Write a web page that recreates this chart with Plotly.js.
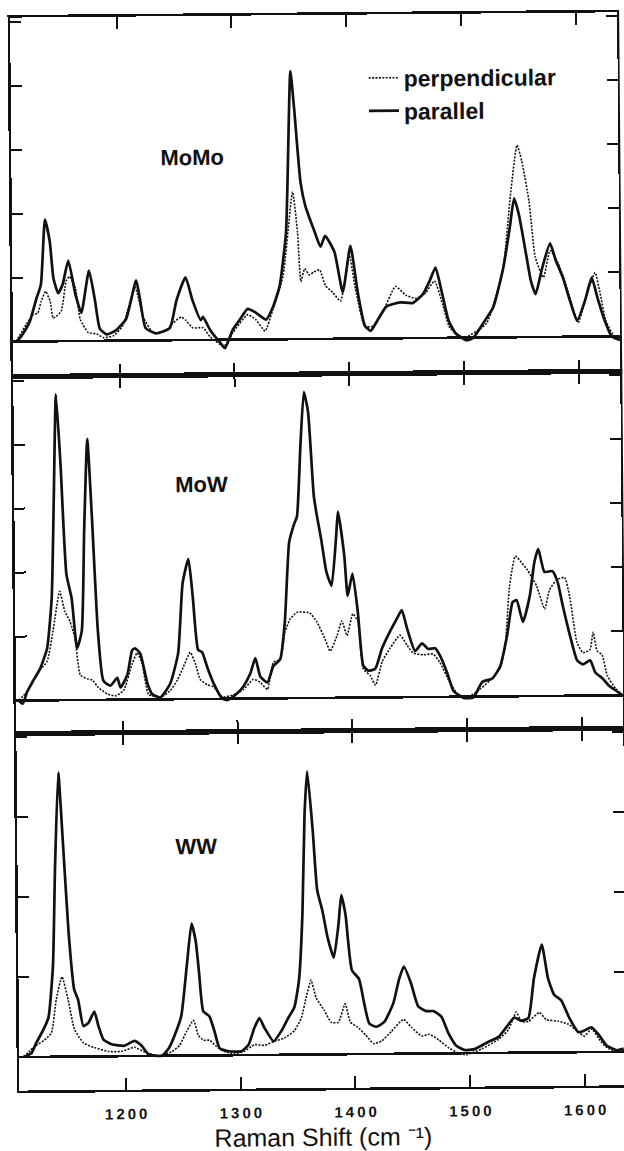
<!DOCTYPE html>
<html>
<head>
<meta charset="utf-8">
<script src="https://cdn.plot.ly/plotly-3.0.1.min.js"></script>
<style>
html,body{margin:0;padding:0;background:#fff;overflow:hidden;}
#plot{width:624px;height:1151px;transform:rotate(-0.5deg);transform-origin:312px 575.5px;}
</style>
</head>
<body>
<div id="plot"></div>
<script>
// ---------- data (Raman shift in cm^-1, relative intensity) ----------
const panelNames = ["MoMo", "MoW", "WW"];
const seriesNames = ["perpendicular", "parallel"];
const tickValues = [1200, 1300, 1400, 1500, 1600];
const tickLabels = ["1\u20092\u20090\u20090", "1\u20093\u20090\u20090", "1\u20094\u20090\u20090", "1\u20095\u20090\u20090", "1\u20096\u20090\u20090"];
const xTitle = "Raman Shift (cm \u207B\u00B9)";

// MoMo
const momoParX = [1110,1112,1117,1122,1128,1132,1136,1140,1143,1147,1151,1156,1162,1167,1174,1179,1183,1189,1197,1206,1215,1218,1223,1232,1244,1250,1258,1264,1271,1273,1279,1288,1292,1299,1305,1312,1319,1328,1334,1340,1346,1351,1354,1359,1363,1371,1376,1380,1388,1395,1402,1408,1414,1419,1426,1433,1445,1456,1465,1471,1476,1481,1487,1493,1502,1508,1517,1526,1535,1541,1545,1549,1555,1559,1563,1569,1576,1581,1587,1593,1599,1606,1612,1617,1623,1629,1637,1641];
const momoParY = [0.0,0.03,0.15,0.31,0.67,0.89,1.9,1.56,0.98,0.75,0.89,1.26,0.73,0.44,1.1,0.63,0.19,0.1,0.16,0.34,0.94,0.67,0.19,0.11,0.19,0.62,0.98,0.62,0.31,0.36,0.16,-0.05,-0.13,0.16,0.31,0.48,0.42,0.31,0.5,0.83,1.67,4.19,3.6,2.45,2.08,1.67,1.44,1.61,1.36,0.73,1.45,0.73,0.2,0.12,0.31,0.5,0.56,0.55,0.69,0.9,1.1,0.74,0.27,0.07,-0.04,-0.01,0.22,0.47,1.08,1.71,2.17,1.92,1.3,0.88,0.67,1.08,1.46,1.19,0.92,0.56,0.25,0.56,0.92,0.6,0.25,0.0,-0.06,-0.04];
const momoPerpX = [1110,1119,1125,1129,1132,1136,1140,1142.5,1149.5,1154,1157,1162,1166,1173,1180,1186,1195,1203,1214,1221,1230,1241,1247,1254,1258,1264,1273,1279,1291,1299,1312,1319,1327,1334,1343,1352,1356,1358.6,1362,1366,1370,1375,1380,1386,1393,1401,1406,1414,1421,1430,1441,1450,1459,1467,1475,1482,1488,1500,1520,1535,1542,1548,1552,1558,1563,1570,1576,1583,1589,1594,1600,1607,1615,1619,1624,1632,1641];
const momoPerpY = [0.0,0.27,0.42,0.44,0.62,0.78,0.62,0.36,0.47,0.94,1.01,0.83,0.34,0.13,0.11,0.05,0.08,0.23,0.83,0.36,0.11,0.16,0.27,0.36,0.31,0.19,0.19,0.05,-0.1,0.11,0.39,0.31,0.13,0.47,0.98,2.3,1.67,0.9,1.1,1.0,1.05,1.08,0.83,0.73,0.59,1.3,0.78,0.19,0.19,0.42,0.81,0.67,0.62,0.7,0.89,0.52,0.16,0.0,0.22,1.1,2.25,3.0,2.75,2.12,1.25,0.93,1.35,1.15,0.84,0.53,0.22,0.62,1.0,0.7,0.25,-0.02,-0.06];

// MoW
const mowParX = [1109.4,1113,1117,1122,1128.5,1134.6,1139,1141.6,1144.2,1147.7,1152,1156.4,1160.8,1165,1167.8,1171.2,1174.7,1179,1183.4,1189.5,1195.6,1198.3,1204.4,1208.7,1211.3,1215.7,1221.8,1226,1233,1241.8,1248.8,1253.2,1258.4,1262,1266.2,1269.7,1274,1279.3,1287,1291.5,1298.5,1305.4,1311.5,1316,1320.3,1326.4,1331.6,1337.7,1342,1346.4,1350.8,1353.4,1356.9,1360.3,1363.8,1368.2,1370.8,1374.3,1378.6,1383,1387.4,1389.1,1394.3,1397,1401.3,1405.7,1410,1414.4,1420.5,1426.6,1433.6,1439.7,1444,1448.4,1455.3,1461.4,1466.7,1472.8,1477.1,1483.2,1488.5,1497.2,1505.9,1513.7,1522.4,1529.4,1535.5,1540.7,1544.2,1549.5,1555.6,1559.9,1563.4,1568.6,1575.6,1580,1584.3,1590.4,1596.5,1601.7,1607.8,1612.2,1618.3,1623.5,1629.6,1635.7];
const mowParY = [0,-0.05,0.14,0.3,0.5,0.81,1.59,3.16,4.78,3.69,1.97,1.59,0.81,1.08,2.64,4.08,2.84,1.08,0.3,0.22,0.34,0.19,0.39,0.77,0.8,0.72,0.25,0.08,0.03,0.25,0.72,1.81,2.19,1.59,0.77,0.73,0.5,0.25,0,-0.02,0.06,0.19,0.39,0.63,0.34,0.25,0.5,0.61,1.19,2.44,2.72,2.84,3.94,4.78,4.47,3.16,2.84,2.48,1.97,1.75,2.53,2.91,2.22,1.59,1.94,1.34,0.5,0.42,0.45,0.77,1.03,1.23,1.36,1.08,0.72,0.84,0.75,0.76,0.64,0.37,0.09,-0.02,-0.01,0.23,0.28,0.47,0.94,1.47,1.5,1.16,1.56,2.09,2.3,1.94,1.95,1.78,1.41,0.94,0.55,0.49,0.55,0.36,0.27,0.16,0.08,0.0];
const mowPerpX = [1109.4,1117,1122.4,1128.5,1134.6,1139.9,1146,1150.3,1154.7,1159,1163.4,1169.5,1173.9,1179.1,1186.9,1193.9,1200.9,1208.7,1213.1,1217.4,1222.7,1233.1,1241.8,1247.9,1253.2,1259.3,1263.6,1268,1274.1,1279.3,1287.1,1296.7,1305.4,1314.2,1320.3,1326.4,1331.6,1337.7,1342,1346.4,1352.5,1361.2,1363.8,1369.9,1376.9,1381.3,1387.4,1391.7,1396.1,1401.3,1405.7,1410,1416.1,1420.5,1426.6,1433.6,1442.3,1448.4,1453.6,1462.3,1471,1477.1,1484.1,1492,1500.7,1512,1523.3,1529.4,1533.8,1538.1,1543.4,1548.6,1553.8,1561.7,1568.6,1573,1579.1,1586.1,1590.4,1596.5,1601.7,1607.8,1610.5,1613.9,1618.3,1622.6,1629.6,1635.7];
const mowPerpY = [0,0.14,0.3,0.48,0.61,1.08,1.7,1.39,1.23,0.97,0.39,0.33,0.31,0.19,0.09,0.06,0.14,0.56,0.73,0.56,0.08,0.03,0.14,0.3,0.5,0.73,0.56,0.3,0.22,0.19,0.03,0.06,0.14,0.3,0.25,0.14,0.56,0.61,1.03,1.23,1.34,1.34,1.33,1.19,0.92,0.73,0.97,1.2,0.97,1.31,1.19,0.45,0.34,0.19,0.56,0.77,0.97,0.81,0.69,0.66,0.67,0.53,0.27,0.04,-0.01,0.12,0.3,0.45,0.78,1.72,2.19,2.09,1.97,1.72,1.36,1.66,1.81,1.85,1.55,0.83,0.67,0.72,0.99,0.7,0.63,0.31,0.11,0.0];

// WW
const wwParX = [1111,1118,1122,1128.5,1133,1137.3,1139.9,1143.4,1146.8,1151.2,1155.6,1159,1163.4,1167.8,1173,1176.5,1180.8,1187.8,1199,1207.8,1213.9,1220,1231.4,1237.5,1242.7,1248.8,1254,1258.4,1261.9,1264.5,1268,1273.2,1277.6,1281.9,1289.8,1301.1,1307.2,1312.4,1316.8,1321.1,1329,1336,1342,1347.3,1351.6,1355.1,1357.7,1360.3,1364.7,1368.2,1372.5,1376.9,1382.1,1386.5,1389.1,1392.6,1397.8,1403.9,1408.3,1412.6,1418.7,1425.7,1433.6,1438.8,1443.1,1449.2,1455.3,1462.3,1468.4,1475.4,1481.5,1488.5,1495.4,1504.1,1516.3,1525.1,1532,1539,1545.1,1551.2,1556.4,1563.4,1568.6,1573.9,1580,1586.9,1594.8,1600,1606.1,1612.2,1619.2,1627.9,1634];
const wwParY = [0,0.05,0.17,0.34,0.49,1.13,2.38,3.55,2.71,1.55,0.84,0.71,0.38,0.42,0.56,0.38,0.21,0.15,0.13,0.19,0.13,0.02,0,0.09,0.25,0.5,1.13,1.65,1.43,1.05,0.55,0.49,0.3,0.09,0.05,0.05,0.13,0.34,0.46,0.34,0.17,0.3,0.46,0.59,0.93,1.75,3.0,3.54,2.8,2.05,1.8,1.46,1.21,1.63,1.99,1.75,1.05,0.94,0.63,0.38,0.34,0.4,0.63,0.93,1.09,0.88,0.59,0.53,0.53,0.46,0.25,0.09,0.04,0.05,0.14,0.2,0.32,0.44,0.4,0.43,0.93,1.35,0.93,0.72,0.65,0.43,0.25,0.27,0.31,0.22,0.08,0.02,0.04];
const wwPerpX = [1111,1120.7,1129.4,1135.5,1139.9,1145.1,1150.3,1155.6,1163.4,1173,1185.2,1196.5,1207.8,1216.6,1228.8,1240.1,1247.1,1253.2,1259.3,1263.6,1268,1273.2,1279.3,1285.4,1295,1303.7,1312.4,1321.1,1329.8,1338.6,1347.3,1353.4,1357.7,1362.1,1366.4,1373.4,1379.5,1385.6,1391.7,1396.1,1402.2,1409.2,1416.1,1423.1,1431.8,1442.3,1449.2,1458,1464.9,1472.8,1481.5,1490.2,1497.2,1510.2,1525.1,1533.8,1540.7,1545.1,1551.2,1560.8,1566.9,1577.3,1586.1,1594.8,1600,1606.1,1614.8,1620.9,1629.6];
const wwPerpY = [0,0.13,0.21,0.3,0.71,1.0,0.71,0.34,0.17,0.11,0.06,0.06,0.11,0.05,0,0.05,0.13,0.3,0.44,0.25,0.19,0.19,0.11,0.05,0.02,0.05,0.13,0.12,0.17,0.21,0.3,0.46,0.71,0.93,0.71,0.55,0.4,0.4,0.63,0.4,0.34,0.24,0.13,0.16,0.28,0.43,0.33,0.22,0.24,0.17,0.07,0.0,-0.02,0.05,0.17,0.29,0.51,0.39,0.39,0.5,0.41,0.39,0.35,0.25,0.2,0.29,0.12,0.04,0.0];

// ---------- layout helpers (pixel -> paper) ----------
const W = 624, H = 1151;
const fx = v => v / W;
const fy = v => 1 - v / H;
const FONT = "Liberation Sans, Arial, Helvetica, sans-serif";
const INK = "#111";

const perpLine = {color: INK, width: 1.6, dash: "2px,1.4px", shape: "spline", smoothing: 0.5};
const parLine = {color: INK, width: 2.7, shape: "spline", smoothing: 0.5};

function tr(x, y, name, line, xa, ya, show) {
  return {x: x, y: y, type: "scatter", mode: "lines", name: name, line: line,
          xaxis: xa, yaxis: ya, showlegend: show, hoverinfo: "skip"};
}

const data = [
  tr(momoPerpX, momoPerpY, seriesNames[0], perpLine, "x3", "y3", true),
  tr(momoParX, momoParY, seriesNames[1], parLine, "x3", "y3", true),
  tr(mowPerpX, mowPerpY, seriesNames[0], perpLine, "x2", "y2", false),
  tr(mowParX, mowParY, seriesNames[1], parLine, "x2", "y2", false),
  tr(wwPerpX, wwPerpY, seriesNames[0], perpLine, "x", "y", false),
  tr(wwParX, wwParY, seriesNames[1], parLine, "x", "y", false)
];

const XR = [1107.2, 1636.2];
const XD = [fx(15), fx(622)];

function xax(anchor, labels) {
  const a = {
    domain: XD, range: XR, anchor: anchor, autorange: false,
    tickmode: "array", tickvals: tickValues, ticktext: tickLabels,
    ticks: "inside", ticklen: 12, tickwidth: 2, tickcolor: INK,
    showline: true, linewidth: 2.6, linecolor: INK, mirror: "ticks",
    showgrid: false, zeroline: false, showticklabels: labels,
    tickfont: {family: FONT, size: 15, color: INK, weight: "bold"}
  };
  if (labels) {
    a.ticklabelstandoff = 9;
    a.title = {text: xTitle, font: {family: FONT, size: 25, color: INK}, standoff: 12};
  }
  return a;
}
function yax(domPx, zeroPx, unit, ticks, anchor) {
  return {
    domain: [fy(domPx[1]), fy(domPx[0])],
    range: [-(domPx[1] - zeroPx) / unit, (zeroPx - domPx[0]) / unit],
    anchor: anchor, autorange: false,
    tickmode: "array", tickvals: ticks,
    ticks: "inside", ticklen: 11, tickwidth: 2, tickcolor: INK,
    showline: true, linewidth: 2.6, linecolor: INK, mirror: "ticks",
    showgrid: false, showticklabels: false,
    zeroline: true, zerolinewidth: 2.6, zerolinecolor: INK
  };
}

function label(text, xPx, yPx) {
  return {text: text, xref: "paper", yref: "paper", x: fx(xPx), y: fy(yPx),
          xanchor: "center", yanchor: "middle", showarrow: false,
          font: {family: FONT, size: 22, color: INK, weight: "bold"}};
}

const layout = {
  width: W, height: H,
  margin: {l: 0, r: 0, t: 0, b: 0},
  paper_bgcolor: "#fff", plot_bgcolor: "rgba(0,0,0,0)",
  font: {family: FONT, color: INK},
  showlegend: true,
  legend: {x: fx(368), y: fy(57), xanchor: "left", yanchor: "top",
           bgcolor: "rgba(0,0,0,0)", borderwidth: 0,
           font: {family: FONT, size: 23, color: INK, weight: "bold"}},
  xaxis: xax("y", true),
  xaxis2: xax("y2", false),
  xaxis3: xax("y3", false),
  yaxis: yax([731, 1088], 1054.5, 80, [1, 2, 3, 4], "x"),
  yaxis2: yax([374, 731], 698, 64, [1, 2, 3, 4, 5], "x2"),
  yaxis3: yax([15, 374], 339, 64, [1, 2, 3, 4, 5], "x3"),
  annotations: [
    label(panelNames[0], 196, 156),
    label(panelNames[1], 202, 483),
    label(panelNames[2], 194, 845)
  ]
};

Plotly.newPlot("plot", data, layout, {displayModeBar: false, staticPlot: true});
</script>
</body>
</html>
